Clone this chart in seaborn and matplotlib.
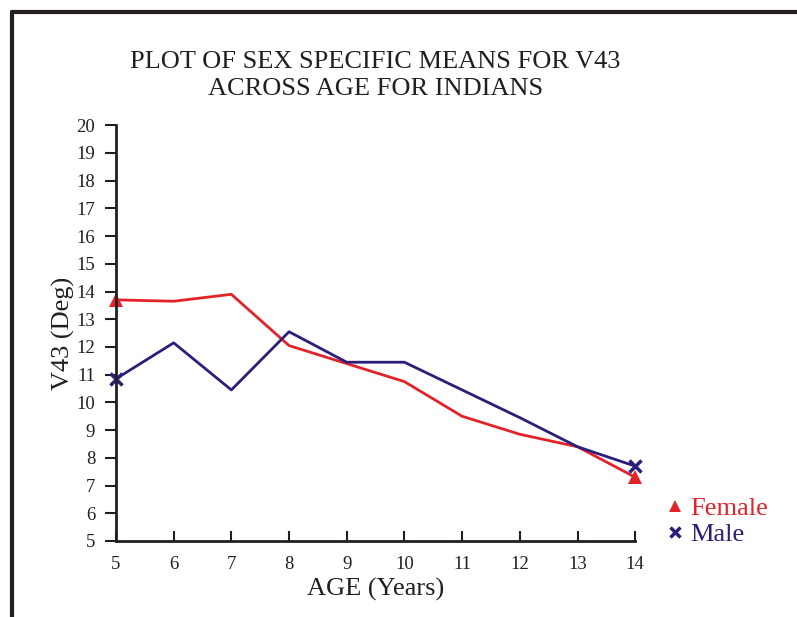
import matplotlib
matplotlib.use("Agg")
import matplotlib.pyplot as plt
import seaborn as sns
from matplotlib.lines import Line2D

# Values
age = [5, 6, 7, 8, 9, 10, 11, 12, 13, 14]
female = [13.7, 13.65, 13.9, 12.05, 11.4, 10.75, 9.5, 8.85, 8.4, 7.3]
male = [10.85, 12.15, 10.45, 12.55, 11.45, 11.45, 10.45, 9.45, 8.4, 7.7]
yticks = list(range(5, 21))

red = "#e2232a"
navy = "#2c1f7a"
ink = "#231f20"

sns.set_style("white")
plt.rcParams["font.family"] = ["Liberation Serif", "DejaVu Serif"]

fig = plt.figure(figsize=(7.97, 6.17), dpi=100)
ax = fig.add_axes([0.1455, 0.1232, 0.797 - 0.1455, 0.797 - 0.1232])

ends = [0, len(age) - 1]
sns.lineplot(x=age, y=female, ax=ax, color=red, lw=2, marker="^", markersize=10,
             markevery=ends, markeredgewidth=0, markerfacecolor=red, clip_on=False)
sns.lineplot(x=age, y=male, ax=ax, color=navy, lw=2, marker="x", markersize=8,
             markevery=ends, markeredgewidth=2.5, markeredgecolor=navy, clip_on=False)

ax.set_xlim(5, 14)
ax.set_ylim(5, 20)
ax.set_xticks(age)
ax.set_yticks(yticks)
ax.tick_params(axis="x", bottom=True, direction="in", length=7, width=1.5, color=ink,
               labelsize=13.5, pad=11, labelcolor=ink)
ax.tick_params(axis="y", left=True, direction="out", length=8, width=1.5, color=ink,
               labelsize=13.5, pad=7, labelcolor=ink)
for s in ["top", "right"]:
    ax.spines[s].set_visible(False)
for s in ["left", "bottom"]:
    ax.spines[s].set_color(ink)
    ax.spines[s].set_linewidth(2)

ax.set_xlabel("AGE (Years)", fontsize=19, color=ink, labelpad=3)
ax.set_ylabel("V43 (Deg)", fontsize=19, color=ink, labelpad=1)
ax.set_title("PLOT OF SEX SPECIFIC MEANS FOR V43\nACROSS AGE FOR INDIANS",
             fontsize=19, color=ink, pad=22, linespacing=1.25)

handles = [Line2D([], [], color=red, marker="^", ls="none", markersize=9, markeredgewidth=0),
           Line2D([], [], color=navy, marker="x", ls="none", markersize=7, markeredgewidth=2.5)]
leg = ax.legend(handles, ["Female", "Male"], loc="center left",
                bbox_to_anchor=(1.019, 0.047), frameon=False, fontsize=19,
                handletextpad=0.3, labelspacing=0.1, handlelength=0.5)
for t, c in zip(leg.get_texts(), [red, navy]):
    t.set_color(c)

# outer frame (left and top edges)
fig.add_artist(Line2D([0.0145, 0.0145], [0, 0.98], transform=fig.transFigure, color=ink, lw=3))
fig.add_artist(Line2D([0.0145, 1.0], [0.98, 0.98], transform=fig.transFigure, color=ink, lw=3))

fig.savefig("out.png", dpi=100)
